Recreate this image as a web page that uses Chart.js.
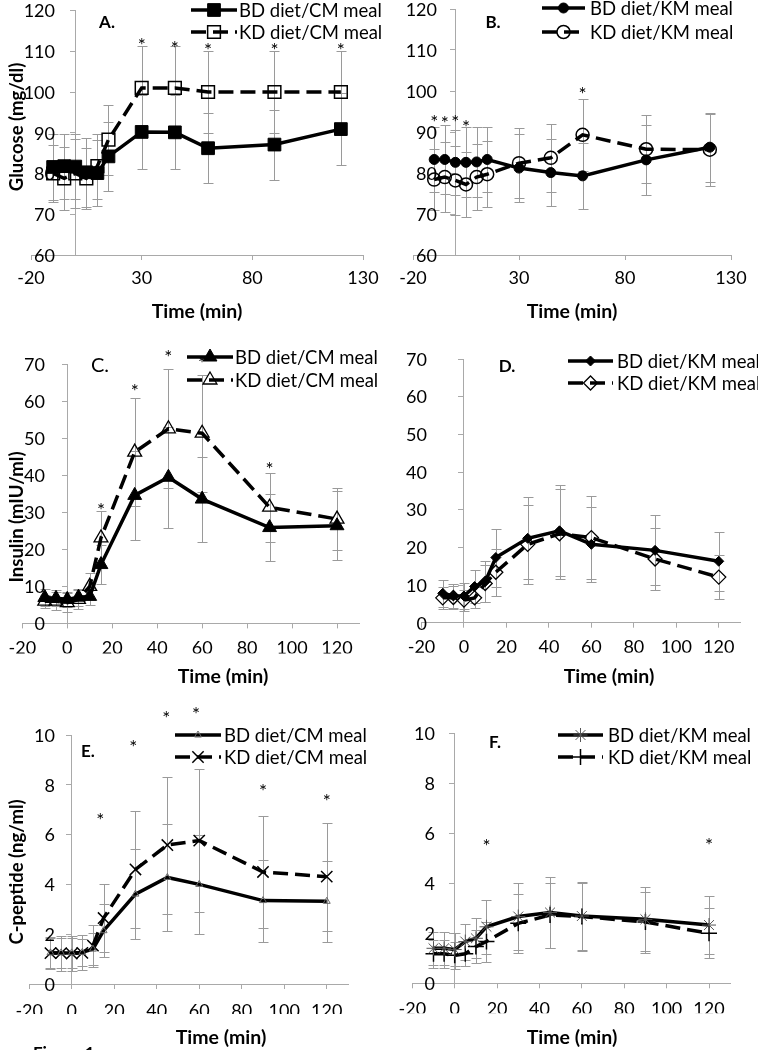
<!DOCTYPE html>
<html>
<head>
<meta charset="utf-8">
<title>Glucose, insulin and C-peptide responses</title>
<script src="https://cdn.jsdelivr.net/npm/chart.js@4.4.0/dist/chart.umd.min.js"></script>
<style>
  body { margin: 0; background: #fff; }
  #wrap { position: relative; width: 758px; height: 1050px; overflow: hidden; }
  #wrap canvas { position: absolute; left: 0; top: 0; }
</style>
</head>
<body>
<div id="wrap">
  <canvas id="panelA" width="758" height="1050"></canvas>
  <canvas id="panelB" width="758" height="1050"></canvas>
  <canvas id="panelC" width="758" height="1050"></canvas>
  <canvas id="panelD" width="758" height="1050"></canvas>
  <canvas id="panelE" width="758" height="1050"></canvas>
  <canvas id="panelF" width="758" height="1050"></canvas>
</div>
<script>
// sampling times (min), same for every panel
const timePoints = [-10, -5, 0, 5, 10, 15, 30, 45, 60, 90, 120];

// tick labels
const xTicksGlucose = [-20, 30, 80, 130];
const xTicksTime = [-20, 0, 20, 40, 60, 80, 100, 120];
const yTicksGlucose = [60, 70, 80, 90, 100, 110, 120];
const yTicksInsulin = [0, 10, 20, 30, 40, 50, 60, 70];
const yTicksCpep = [0, 2, 4, 6, 8, 10];

// A. glucose, CM meal
const glucoseBdCm = [81.6, 81.8, 81.7, 80.3, 80.1, 84.2, 90.2, 90.1, 86.2, 87.1, 90.9];
const glucoseBdCmErr = [8, 8, 8, 8.5, 8, 8.4, 9.1, 9.1, 8.6, 8.6, 8.9];
const glucoseKdCm = [80.0, 78.8, 80.0, 78.8, 81.8, 88.3, 101.0, 101.0, 100.0, 100.0, 100.0];
const glucoseKdCmErr = [7, 7.8, 8.5, 7.5, 8, 8.6, 10.2, 10.2, 10, 10, 10];
const starsAx = [30, 45, 60, 90, 120];
const starsAy = [112.4, 111.8, 111.4, 111.2, 111.4];

// B. glucose, KM meal
const glucoseBdKm = [83.3, 83.3, 82.6, 82.6, 82.7, 83.3, 81.2, 80.1, 79.3, 83.2, 86.3];
const glucoseBdKmErr = [8, 8.5, 8, 8.5, 8.5, 8, 8.2, 8.1, 8, 8.5, 8.4];
const glucoseKdKm = [78.4, 79.0, 78.2, 77.2, 79.0, 79.7, 82.4, 83.7, 89.3, 85.8, 85.7];
const glucoseKdKmErr = [7.5, 8.5, 8.5, 8, 8, 8, 8.6, 8.3, 8.7, 8.3, 8.8];
const starsBx = [-10, -5, 0, 5, 60];
const starsBy = [93.3, 93.1, 93.3, 92.1, 100.2];

// C. insulin, CM meal
const insulinBdCm = [7.0, 6.8, 6.5, 7.1, 7.3, 15.9, 34.6, 39.5, 33.6, 25.9, 26.4];
const insulinBdCmErr = [2.2, 2.2, 2.0, 2.3, 2.3, 5.2, 12, 13.7, 11.5, 9.0, 9.3];
const insulinKdCm = [6.0, 6.0, 5.6, 6.5, 10.0, 23.1, 46.3, 52.6, 51.4, 31.4, 28.2];
const insulinKdCmErr = [1.8, 2.5, 2.5, 2.5, 3.5, 7.4, 14.7, 16.1, 15.8, 9.3, 8.3];
const starsCx = [15, 30, 45, 60, 90];
const starsCy = [31.8, 64, 73, 71.4, 42.8];

// D. insulin, KM meal
const insulinBdKm = [7.8, 7.1, 7.1, 9.6, 10.9, 17.3, 22.4, 24.4, 20.8, 19.2, 16.3];
const insulinBdKmErr = [3.5, 3.3, 3.4, 4.4, 5.4, 7.7, 10.9, 12.1, 10, 9.3, 7.8];
const insulinKdKm = [6.6, 6.7, 6.0, 6.6, 10.4, 13.4, 20.8, 23.6, 22.6, 16.9, 12.1];
const insulinKdKmErr = [3.0, 3.0, 2.8, 2.8, 4.8, 6.2, 10.4, 11.9, 11, 8.3, 5.8];

// E. C-peptide, CM meal
const cpepBdCm = [1.25, 1.25, 1.25, 1.27, 1.4, 2.14, 3.61, 4.28, 4.0, 3.35, 3.32];
const cpepBdCmErr = [0.6, 0.6, 0.6, 0.55, 0.65, 1.07, 1.8, 2.14, 2.0, 1.65, 1.62];
const cpepKdCm = [1.24, 1.24, 1.22, 1.25, 1.54, 2.65, 4.6, 5.58, 5.76, 4.5, 4.31];
const cpepKdCmErr = [0.65, 0.7, 0.7, 0.7, 0.84, 1.37, 2.36, 2.75, 2.86, 2.25, 2.17];
const starsEx = [13.5, 29, 44.5, 58.5, 90, 120];
const starsEy = [6.75, 9.67, 10.84, 11.0, 7.93, 7.52];

// F. C-peptide, KM meal
const cpepBdKm = [1.4, 1.4, 1.35, 1.67, 1.8, 2.26, 2.67, 2.83, 2.69, 2.56, 2.33];
const cpepBdKmErr = [0.65, 0.65, 0.65, 0.72, 0.8, 1.07, 1.33, 1.41, 1.37, 1.28, 1.16];
const cpepKdKm = [1.18, 1.18, 1.12, 1.18, 1.47, 1.67, 2.4, 2.73, 2.67, 2.45, 2.0];
const cpepKdKmErr = [0.55, 0.55, 0.55, 0.5, 0.65, 0.8, 1.17, 1.3, 1.36, 1.22, 1.0];
const starsFx = [15, 120];
const starsFy = [5.67, 5.71];

const FONT = 'Lato, "Open Sans", sans-serif';
const axisGray = '#a9a9a9';
const barGray = '#9a9a9a';
const DASH = [15, 7];

// text, legend, stars etc. for each canvas
const panelInfo = {};

function toXY(vals) {
  return timePoints.map((t, i) => ({x: t, y: vals[i]}));
}

// gray error bars, drawn under the lines so open markers show them
const errorBars = {
  id: 'errorBars',
  beforeDatasetsDraw(chart) {
    const ctx = chart.ctx;
    const yScale = chart.scales.y;
    ctx.save();
    ctx.strokeStyle = barGray;
    ctx.lineWidth = 1;
    chart.data.datasets.forEach((ds, i) => {
      const meta = chart.getDatasetMeta(i);
      meta.data.forEach((pt, j) => {
        const v = ds.data[j].y;
        const e = ds.errors[j];
        const x = Math.round(pt.x) + 0.5;
        const top = Math.round(yScale.getPixelForValue(v + e)) + 0.5;
        const bot = Math.round(yScale.getPixelForValue(v - e)) + 0.5;
        ctx.beginPath();
        ctx.moveTo(x, top); ctx.lineTo(x, bot);
        ctx.moveTo(x - 5, top); ctx.lineTo(x + 5, top);
        ctx.moveTo(x - 5, bot); ctx.lineTo(x + 5, bot);
        ctx.stroke();
      });
    });
    ctx.restore();
  }
};

// y tick labels, legend, axis titles, panel letter and significance stars
const panelText = {
  id: 'panelText',
  afterDraw(chart) {
    const p = panelInfo[chart.canvas.id];
    const ctx = chart.ctx;
    const xs = chart.scales.x, ys = chart.scales.y;

    ctx.save();
    ctx.fillStyle = '#000';
    ctx.font = '18px ' + FONT;
    ctx.textAlign = 'right';
    ctx.textBaseline = 'middle';
    ys.ticks.forEach(t => {
      ctx.fillText(String(t.value), p.yLabelRight, ys.getPixelForValue(t.value) + 1);
    });
    ctx.restore();

    // legend
    const lg = p.legend;
    chart.data.datasets.forEach((ds, i) => {
      const y = lg.y[i];
      ctx.save();
      ctx.strokeStyle = '#000';
      ctx.lineWidth = ds.borderWidth;
      ctx.setLineDash(ds.borderDash || []);
      ctx.beginPath();
      ctx.moveTo(lg.x1, y);
      ctx.lineTo(lg.x2, y);
      ctx.stroke();
      ctx.setLineDash([]);
      ctx.fillStyle = ds.pointBackgroundColor;
      ctx.strokeStyle = ds.pointBorderColor;
      ctx.lineWidth = ds.pointBorderWidth;
      Chart.helpers.drawPoint(ctx, {
        pointStyle: ds.pointStyle, radius: ds.pointRadius, rotation: 0, borderWidth: ds.pointBorderWidth
      }, (lg.x1 + lg.x2) / 2, y);
      ctx.restore();
      ctx.fillStyle = '#000';
      ctx.font = '18.5px ' + FONT;
      ctx.textAlign = 'left';
      ctx.textBaseline = 'middle';
      ctx.fillText(ds.label, lg.textX, y + 1);
    });

    ctx.save();
    ctx.fillStyle = '#000';
    // x title
    ctx.font = 'bold 19.5px ' + FONT;
    ctx.textAlign = 'center';
    ctx.textBaseline = 'middle';
    ctx.fillText('Time (min)', p.xTitle[0], p.xTitle[1]);
    // y title
    if (p.yTitle) {
      ctx.save();
      ctx.font = 'bold 18.5px ' + FONT;
      ctx.translate(p.yTitle[1], p.yTitle[2]);
      ctx.rotate(-Math.PI / 2);
      ctx.fillText(p.yTitle[0], 0, 0);
      ctx.restore();
    }
    // panel letter
    ctx.font = p.letterFont + FONT;
    ctx.fillText(p.letter[0], p.letter[1], p.letter[2]);
    // stars
    ctx.font = '19px ' + FONT;
    ctx.textBaseline = 'alphabetic';
    p.starsX.forEach((sx, i) => {
      ctx.fillText('*', xs.getPixelForValue(sx), ys.getPixelForValue(p.starsY[i]) + 11);
    });
    if (p.extra) {
      ctx.font = 'bold 17px ' + FONT;
      ctx.textAlign = 'left';
      ctx.textBaseline = 'top';
      ctx.fillText(p.extra[0], p.extra[1], p.extra[2]);
    }
    ctx.restore();
  }
};

function lineSet(label, vals, errs, dashed, mk) {
  return {
    label: label,
    data: toXY(vals),
    errors: errs,
    borderColor: '#000',
    borderWidth: 3.5,
    borderDash: dashed ? DASH : [],
    tension: 0,
    pointStyle: mk.style,
    pointRadius: mk.r,
    pointBackgroundColor: mk.fill,
    pointBorderColor: mk.stroke || '#000',
    pointBorderWidth: mk.bw
  };
}

function buildPanel(id, p) {
  panelInfo[id] = p;
  const tickFont = {family: FONT, size: 18};
  new Chart(document.getElementById(id), {
    type: 'line',
    data: {
      datasets: [
        lineSet(p.labels[0], p.bd, p.bdErr, false, p.markers[0]),
        lineSet(p.labels[1], p.kd, p.kdErr, true, p.markers[1])
      ]
    },
    options: {
      responsive: false,
      animation: false,
      events: [],
      layout: {
        padding: {left: p.area[0], top: p.area[1], right: 758 - p.area[2], bottom: 1050 - p.area[3] - 30}
      },
      plugins: {legend: {display: false}, tooltip: {enabled: false}},
      scales: {
        x: {
          type: 'linear', min: -20, max: 130,
          afterBuildTicks: s => { s.ticks = p.xTicks.map(v => ({value: v})); },
          afterFit: s => { s.height = 30; },
          grid: {drawOnChartArea: false, tickLength: 5, color: axisGray},
          border: {color: axisGray, width: 1},
          ticks: {font: tickFont, color: '#000', padding: p.xPad, maxRotation: 0, autoSkip: false}
        },
        y: {
          type: 'linear', min: p.yTicks[0], max: p.yTicks[p.yTicks.length - 1],
          position: {x: 0},
          afterBuildTicks: s => { s.ticks = p.yTicks.map(v => ({value: v})); },
          grid: {drawOnChartArea: false, tickLength: 5, color: axisGray},
          border: {color: axisGray, width: 1},
          ticks: {display: false}
        }
      }
    },
    plugins: [errorBars, panelText]
  });
}

const none = 'rgba(0,0,0,0)';

buildPanel('panelA', {
  labels: ['BD diet/CM meal', 'KD diet/CM meal'],
  bd: glucoseBdCm, bdErr: glucoseBdCmErr, kd: glucoseKdCm, kdErr: glucoseKdCmErr,
  markers: [{style: 'rect', r: 9, fill: '#000', bw: 1}, {style: 'rect', r: 9, fill: none, bw: 1.5}],
  xTicks: xTicksGlucose, yTicks: yTicksGlucose,
  area: [31, 9, 363, 255], xPad: 7, yLabelRight: 55,
  xTitle: [197, 312], yTitle: ['Glucose (mg/dl)', 17, 127],
  letter: ['A.', 107, 23], letterFont: 'bold 17px ',
  legend: {x1: 191, x2: 237, textX: 239, y: [10, 32]},
  starsX: starsAx, starsY: starsAy
});

buildPanel('panelB', {
  labels: ['BD diet/KM meal', 'KD diet/KM meal'],
  bd: glucoseBdKm, bdErr: glucoseBdKmErr, kd: glucoseKdKm, kdErr: glucoseKdKmErr,
  markers: [{style: 'circle', r: 5, fill: '#000', bw: 1}, {style: 'circle', r: 6.5, fill: none, bw: 1.5}],
  xTicks: xTicksGlucose, yTicks: yTicksGlucose,
  area: [413, 9, 731, 255], xPad: 7, yLabelRight: 437,
  xTitle: [572, 312], yTitle: null,
  letter: ['B.', 493, 23], letterFont: 'bold 17px ',
  legend: {x1: 542, x2: 585, textX: 590, y: [8, 32]},
  starsX: starsBx, starsY: starsBy
});

buildPanel('panelC', {
  labels: ['BD diet/CM meal', 'KD diet/CM meal'],
  bd: insulinBdCm, bdErr: insulinBdCmErr, kd: insulinKdCm, kdErr: insulinKdCmErr,
  markers: [{style: 'triangle', r: 8, fill: '#000', bw: 1}, {style: 'triangle', r: 8, fill: none, bw: 1.3}],
  xTicks: xTicksTime, yTicks: yTicksInsulin,
  area: [17.7, 364.4, 359.5, 623.4], xPad: 8.5, yLabelRight: 45,
  xTitle: [223, 677], yTitle: ['Insulin (mIU/ml)', 17, 517],
  letter: ['C.', 100, 366], letterFont: '20px ',
  legend: {x1: 187, x2: 233, textX: 235, y: [357, 380]},
  starsX: starsCx, starsY: starsCy
});

buildPanel('panelD', {
  labels: ['BD diet/KM meal', 'KD diet/KM meal'],
  bd: insulinBdKm, bdErr: insulinBdKmErr, kd: insulinKdKm, kdErr: insulinKdKmErr,
  markers: [{style: 'rectRot', r: 5, fill: '#000', bw: 1}, {style: 'rectRot', r: 7, fill: none, bw: 1.3}],
  xTicks: xTicksTime, yTicks: yTicksInsulin,
  area: [421.5, 359, 740, 622.7], xPad: 9, yLabelRight: 427,
  xTitle: [609, 677], yTitle: null,
  letter: ['D.', 507, 367], letterFont: 'bold 17px ',
  legend: {x1: 568, x2: 613, textX: 617, y: [361, 383]},
  starsX: [], starsY: []
});

buildPanel('panelE', {
  labels: ['BD diet/CM meal', 'KD diet/CM meal'],
  bd: cpepBdCm, bdErr: cpepBdCmErr, kd: cpepKdCm, kdErr: cpepKdCmErr,
  markers: [{style: 'triangle', r: 4, fill: none, stroke: '#666', bw: 1}, {style: 'crossRot', r: 8, fill: none, bw: 1.5}],
  xTicks: xTicksTime, yTicks: yTicksCpep,
  area: [29.2, 735, 348, 984], xPad: 11.5, yLabelRight: 55,
  xTitle: [221, 1038], yTitle: ['C-peptide (ng/ml)', 17, 872],
  letter: ['E.', 88, 752], letterFont: 'bold 17px ',
  legend: {x1: 175, x2: 221, textX: 224, y: [735, 757]},
  starsX: starsEx, starsY: starsEy,
  extra: ['Figure 1', 33, 1045]
});

buildPanel('panelF', {
  labels: ['BD diet/KM meal', 'KD diet/KM meal'],
  bd: cpepBdKm, bdErr: cpepBdKmErr, kd: cpepKdKm, kdErr: cpepKdKmErr,
  markers: [{style: 'star', r: 7, fill: none, stroke: '#555', bw: 1}, {style: 'cross', r: 8, fill: none, bw: 1.5}],
  xTicks: xTicksTime, yTicks: yTicksCpep,
  area: [412.3, 733.3, 730.2, 983.3], xPad: 10.5, yLabelRight: 435,
  xTitle: [572, 1038], yTitle: null,
  letter: ['F.', 495, 743], letterFont: 'bold 17px ',
  legend: {x1: 558, x2: 603, textX: 608, y: [735, 757]},
  starsX: starsFx, starsY: starsFy
});
</script>
</body>
</html>
